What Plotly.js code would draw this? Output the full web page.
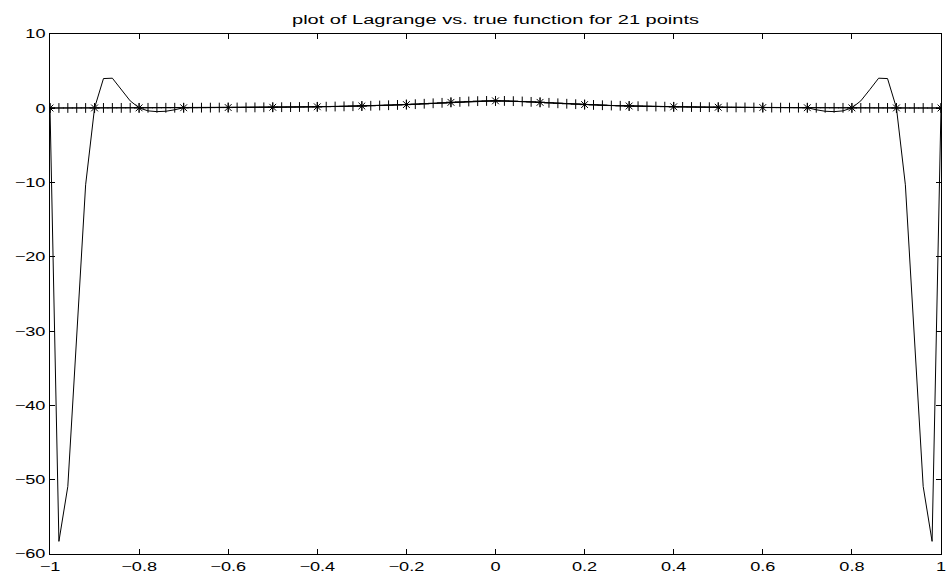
<!DOCTYPE html>
<html>
<head>
<meta charset="utf-8">
<script src="https://cdn.plot.ly/plotly-3.0.1.min.js"></script>
<style>
  html, body { margin: 0; padding: 0; background: #ffffff; }
  #chart { width: 948px; height: 580px; }
</style>
</head>
<body>
<div id="chart"></div>
<script>
// Evaluation grid (step 0.02)
const xFine = [
  -1.00, -0.98, -0.96, -0.94, -0.92, -0.90, -0.88, -0.86, -0.84, -0.82,
  -0.80, -0.78, -0.76, -0.74, -0.72, -0.70, -0.68, -0.66, -0.64, -0.62,
  -0.60, -0.58, -0.56, -0.54, -0.52, -0.50, -0.48, -0.46, -0.44, -0.42,
  -0.40, -0.38, -0.36, -0.34, -0.32, -0.30, -0.28, -0.26, -0.24, -0.22,
  -0.20, -0.18, -0.16, -0.14, -0.12, -0.10, -0.08, -0.06, -0.04, -0.02,
   0.00,
   0.02,  0.04,  0.06,  0.08,  0.10,  0.12,  0.14,  0.16,  0.18,  0.20,
   0.22,  0.24,  0.26,  0.28,  0.30,  0.32,  0.34,  0.36,  0.38,  0.40,
   0.42,  0.44,  0.46,  0.48,  0.50,  0.52,  0.54,  0.56,  0.58,  0.60,
   0.62,  0.64,  0.66,  0.68,  0.70,  0.72,  0.74,  0.76,  0.78,  0.80,
   0.82,  0.84,  0.86,  0.88,  0.90,  0.92,  0.94,  0.96,  0.98,  1.00
];

// Lagrange interpolating polynomial
const lagrangeY = [
  0.038, -58.3, -50.9, -30.2, -10.3, 0.047, 4.00, 4.05, 2.5, 1.0,
  0.059, -0.35, -0.45, -0.40, -0.20, 0.075, 0.080, 0.084, 0.089, 0.094,
  0.100, 0.106, 0.113, 0.121, 0.129, 0.138, 0.148, 0.159, 0.171, 0.185,
  0.200, 0.217, 0.236, 0.257, 0.281, 0.308, 0.338, 0.372, 0.410, 0.452,
  0.500, 0.552, 0.610, 0.671, 0.735, 0.800, 0.862, 0.917, 0.962, 0.990,
  1.000,
  0.990, 0.962, 0.917, 0.862, 0.800, 0.735, 0.671, 0.610, 0.552, 0.500,
  0.452, 0.410, 0.372, 0.338, 0.308, 0.281, 0.257, 0.236, 0.217, 0.200,
  0.185, 0.171, 0.159, 0.148, 0.138, 0.129, 0.121, 0.113, 0.106, 0.100,
  0.094, 0.089, 0.084, 0.080, 0.075, -0.20, -0.40, -0.45, -0.35, 0.059,
  1.0, 2.5, 4.05, 4.00, 0.047, -10.3, -30.2, -50.9, -58.3, 0.038
];

// True function values
const trueY = [
  0.038, 0.040, 0.042, 0.043, 0.045, 0.047, 0.049, 0.051, 0.054, 0.056,
  0.059, 0.062, 0.065, 0.068, 0.072, 0.075, 0.080, 0.084, 0.089, 0.094,
  0.100, 0.106, 0.113, 0.121, 0.129, 0.138, 0.148, 0.159, 0.171, 0.185,
  0.200, 0.217, 0.236, 0.257, 0.281, 0.308, 0.338, 0.372, 0.410, 0.452,
  0.500, 0.552, 0.610, 0.671, 0.735, 0.800, 0.862, 0.917, 0.962, 0.990,
  1.000,
  0.990, 0.962, 0.917, 0.862, 0.800, 0.735, 0.671, 0.610, 0.552, 0.500,
  0.452, 0.410, 0.372, 0.338, 0.308, 0.281, 0.257, 0.236, 0.217, 0.200,
  0.185, 0.171, 0.159, 0.148, 0.138, 0.129, 0.121, 0.113, 0.106, 0.100,
  0.094, 0.089, 0.084, 0.080, 0.075, 0.072, 0.068, 0.065, 0.062, 0.059,
  0.056, 0.054, 0.051, 0.049, 0.047, 0.045, 0.043, 0.042, 0.040, 0.038
];

// 21 interpolation nodes
const xNodes = [
  -1.0, -0.9, -0.8, -0.7, -0.6, -0.5, -0.4, -0.3, -0.2, -0.1,
   0.0,  0.1,  0.2,  0.3,  0.4,  0.5,  0.6,  0.7,  0.8,  0.9, 1.0
];
const yNodes = [
  0.038, 0.047, 0.059, 0.075, 0.100, 0.138, 0.200, 0.308, 0.500, 0.800,
  1.000, 0.800, 0.500, 0.308, 0.200, 0.138, 0.100, 0.075, 0.059, 0.047, 0.038
];

const xTicks = [-1, -0.8, -0.6, -0.4, -0.2, 0, 0.2, 0.4, 0.6, 0.8, 1];
const yTicks = [10, 0, -10, -20, -30, -40, -50, -60];

const FONT = 'Liberation Sans, Arial, Helvetica, sans-serif';

const traces = [
  {
    x: xFine, y: lagrangeY, type: 'scatter', mode: 'lines',
    line: { color: '#000000', width: 1 }, hoverinfo: 'skip'
  },
  {
    x: xFine, y: trueY, type: 'scatter', mode: 'lines+markers',
    line: { color: '#000000', width: 1 },
    marker: { symbol: 'cross-thin-open', size: 7, color: '#000000',
              line: { color: '#000000', width: 1 } },
    hoverinfo: 'skip'
  },
  {
    x: xNodes, y: yNodes, type: 'scatter', mode: 'markers',
    marker: { symbol: 'asterisk-open', size: 8, color: '#000000',
              line: { color: '#000000', width: 1 } },
    hoverinfo: 'skip'
  }
];

const axisCommon = {
  showgrid: false, zeroline: false,
  showline: true, linecolor: '#000000', linewidth: 1,
  mirror: 'ticks', ticks: 'inside', ticklen: 5, tickwidth: 1, tickcolor: '#000000',
  tickfont: { family: FONT, size: 12.5, color: '#000000' }
};

const layout = {
  width: 948, height: 580,
  margin: { l: 50, r: 7, t: 34, b: 26, pad: 0 },
  paper_bgcolor: '#ffffff', plot_bgcolor: '#ffffff',
  showlegend: false,
  title: {
    text: 'plot of Lagrange vs. true function for 21 points',
    font: { family: FONT, size: 12.5, color: '#000000' },
    x: 0.5, xref: 'paper', xanchor: 'center',
    y: 0.967, yref: 'container', yanchor: 'middle'
  },
  xaxis: Object.assign({}, axisCommon, {
    range: [-1, 1], tickvals: xTicks, ticklabelstandoff: 1
  }),
  yaxis: Object.assign({}, axisCommon, {
    range: [-60, 10], tickvals: yTicks, ticklabelstandoff: 1
  })
};

// The reference text is drawn horizontally wide; widen the glyphs to match.
function widenText(gd) {
  const stretch = (el, f) => {
    const w = el.getComputedTextLength();
    if (w > 0) {
      el.setAttribute('textLength', (w * f).toFixed(1));
      el.setAttribute('lengthAdjust', 'spacingAndGlyphs');
    }
  };
  gd.querySelectorAll('.xtick text, .ytick text').forEach(t => stretch(t, 1.45));
  gd.querySelectorAll('.gtitle').forEach(t => stretch(t, 1.6));
}

Plotly.newPlot('chart', traces, layout, { displayModeBar: false, staticPlot: true })
  .then(widenText);
</script>
</body>
</html>
